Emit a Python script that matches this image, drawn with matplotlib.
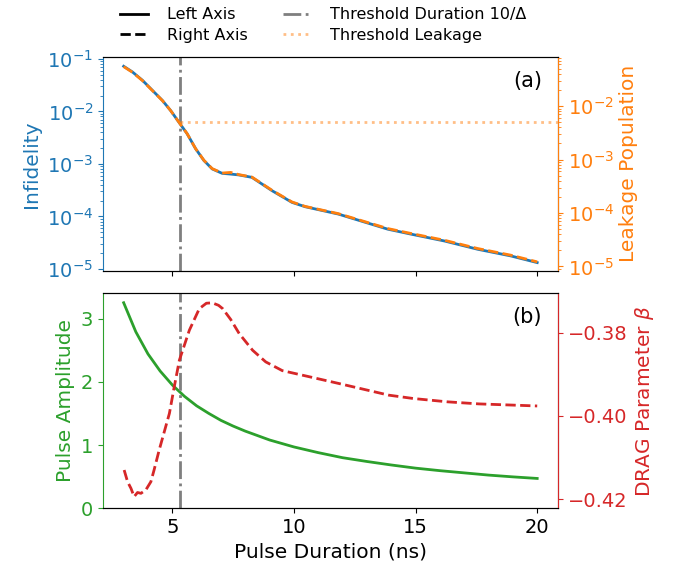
import matplotlib
matplotlib.use("Agg")
import matplotlib.pyplot as plt
from matplotlib.lines import Line2D

# gate optimisation results vs pulse duration (ns)
duration = [3.0, 3.36, 3.77, 4.18, 4.59, 4.93, 5.27, 5.61, 5.96, 6.30, 6.64, 7.05,
            7.40, 7.73, 8.27, 9.10, 9.92, 10.46, 11.82, 13.86, 14.82, 16.18,
            17.55, 18.91, 20.0]
infidelity = [7.24e-2, 5.64e-2, 3.92e-2, 2.52e-2, 1.62e-2, 1.04e-2, 6.24e-3,
              3.75e-3, 1.94e-3, 1.16e-3, 8.02e-4, 6.61e-4, 6.40e-4, 6.17e-4,
              5.55e-4, 3.09e-4, 1.85e-4, 1.53e-4, 1.11e-4, 5.71e-5, 4.59e-5,
              3.41e-5, 2.37e-5, 1.77e-5, 1.32e-5]
leakage = [5.46e-2, 4.29e-2, 3.00e-2, 1.95e-2, 1.27e-2, 8.25e-3, 5.00e-3,
           3.04e-3, 1.59e-3, 9.66e-4, 6.76e-4, 5.59e-4, 5.75e-4, 5.23e-4,
           4.71e-4, 2.66e-4, 1.61e-4, 1.33e-4, 9.75e-5, 5.12e-5, 4.14e-5,
           3.10e-5, 2.17e-5, 1.63e-5, 1.22e-5]

amp_duration = [3.0, 3.5, 4.0, 4.5, 5.0, 5.5, 6.0, 6.5, 7.0, 7.5, 8.0, 9.0, 10.0,
                11.0, 12.0, 13.0, 14.0, 15.0, 16.0, 17.0, 18.0, 19.0, 20.0]
amplitude = [3.25, 2.79, 2.44, 2.17, 1.95, 1.77, 1.62, 1.50, 1.39, 1.30, 1.22,
             1.08, 0.97, 0.88, 0.80, 0.74, 0.685, 0.635, 0.595, 0.56, 0.525,
             0.497, 0.472]

drag_duration = [3.02, 3.16, 3.30, 3.43, 3.57, 3.71, 3.91, 4.12, 4.25, 4.46,
                 4.88, 5.07, 5.29, 5.70, 6.11, 6.40, 6.64, 6.90, 7.07, 7.40,
                 7.75, 8.30, 8.84, 9.52, 10.50, 11.85, 13.90, 14.90, 16.30,
                 17.60, 20.0]
drag_beta = [-0.4130, -0.4158, -0.4174, -0.4194, -0.4184, -0.4186, -0.4178,
             -0.4158, -0.4130, -0.4082, -0.3994, -0.3933, -0.3866, -0.3794,
             -0.3742, -0.3729, -0.3728, -0.3734, -0.3742, -0.3768, -0.3802,
             -0.3842, -0.3870, -0.3891, -0.3904, -0.3922, -0.3950, -0.3958,
             -0.3966, -0.3971, -0.3976]

threshold_duration = 5.3   # 10 / Delta
threshold_leakage = 5e-3

plt.rcParams["font.size"] = 14.5
plt.rcParams["xtick.labelsize"] = 14
plt.rcParams["ytick.labelsize"] = 14

fig = plt.figure(figsize=(6.82, 5.75), dpi=100)
ax_a = fig.add_axes([0.151, 0.529, 0.667, 0.372])
ax_b = fig.add_axes([0.151, 0.116, 0.667, 0.374], sharex=ax_a)
ax_a2 = ax_a.twinx()
ax_b2 = ax_b.twinx()

# (a) infidelity and leakage
ax_a.plot(duration, infidelity, color="C0", lw=2)
ax_a2.plot(duration, leakage, color="C1", lw=2, ls="--")
ax_a.axvline(threshold_duration, color="C7", lw=2, ls="-.")
ax_a2.hlines(threshold_leakage, threshold_duration, 20.85, color="C1",
             alpha=0.5, lw=2, ls=":")
ax_a.set_yscale("log")
ax_a2.set_yscale("log")
ax_a.set_ylim(9.2e-6, 1.09e-1)
ax_a2.set_ylim(8.3e-6, 8.3e-2)
ax_a.set_ylabel("Infidelity", color="C0")
ax_a2.set_ylabel("Leakage Population", color="C1")
ax_a.tick_params(axis="y", which="both", colors="C0")
ax_a2.tick_params(axis="y", which="both", colors="C1")
ax_a.spines["left"].set_color("C0")
ax_a2.spines["left"].set_visible(False)
ax_a2.spines["right"].set_color("C1")
ax_a.tick_params(axis="x", labelbottom=False)
ax_a.text(0.965, 0.935, "(a)", transform=ax_a.transAxes, ha="right",
          va="top", fontsize=15)

# (b) pulse parameters
ax_b.plot(amp_duration, amplitude, color="C2", lw=2)
ax_b2.plot(drag_duration, drag_beta, color="C3", lw=2, ls="--")
ax_b.axvline(threshold_duration, color="C7", lw=2, ls="-.")
ax_b.set_ylim(0, 3.40)
ax_b2.set_ylim(-0.4222, -0.3705)
ax_b.set_yticks([0, 1, 2, 3])
ax_b2.set_yticks([-0.42, -0.40, -0.38])
ax_b2.set_yticklabels(["\u22120.42", "\u22120.40", "\u22120.38"])
ax_b.set_ylabel("Pulse Amplitude", color="C2")
ax_b2.set_ylabel(r"DRAG Parameter $\beta$", color="C3")
ax_b.tick_params(axis="y", colors="C2")
ax_b2.tick_params(axis="y", colors="C3")
ax_b.spines["left"].set_color("C2")
ax_b2.spines["left"].set_visible(False)
ax_b2.spines["right"].set_color("C3")
ax_b.set_xlim(2.15, 20.85)
ax_b.set_xticks([5, 10, 15, 20])
ax_b.set_xlabel("Pulse Duration (ns)")
ax_b.text(0.965, 0.935, "(b)", transform=ax_b.transAxes, ha="right",
          va="top", fontsize=15)

handles = [
    Line2D([], [], color="k", lw=2, ls="-", label="Left Axis"),
    Line2D([], [], color="k", lw=2, ls="--", label="Right Axis"),
    Line2D([], [], color="C7", lw=2, ls="-.", label="Threshold Duration 10/\u0394"),
    Line2D([], [], color="C1", alpha=0.5, lw=2, ls=":", label="Threshold Leakage"),
]
fig.legend(handles=handles, ncol=2, loc="upper center",
           bbox_to_anchor=(0.474, 1.012), frameon=False, fontsize=11.5,
           handlelength=1.75, handletextpad=1.2, columnspacing=2.2,
           labelspacing=0.35)

fig.savefig("out.png", dpi=100)
